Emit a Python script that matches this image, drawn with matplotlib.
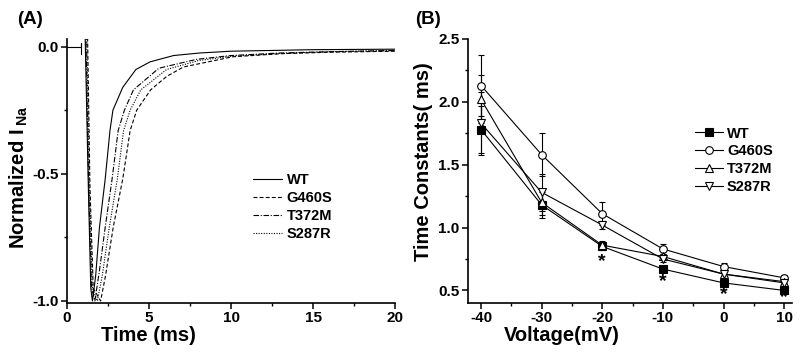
import numpy as np
import matplotlib
matplotlib.use("Agg")
from matplotlib import pyplot as plt

plt.rcParams['font.family'] = ['Liberation Sans', 'DejaVu Sans']
plt.rcParams['font.weight'] = 'bold'
plt.rcParams['axes.unicode_minus'] = False
plt.rcParams['mathtext.fontset'] = 'custom'
plt.rcParams['mathtext.rm'] = 'Liberation Sans:bold'
plt.rcParams['mathtext.bf'] = 'Liberation Sans:bold'

# (A) normalized sodium current traces
artifact_t = [0.0, 0.85, 0.85, 0.85]
artifact_y = [0.0, 0.0, 0.016, -0.03]

wt_t = [1.10, 1.30, 1.45, 1.55, 1.75, 1.98, 2.33, 2.62, 2.80, 3.40, 4.20, 5.06, 6.50, 8.10, 10.0, 15.0, 20.0]
wt_i = [0.06, -0.55, -0.95, -1.00, -0.90, -0.71, -0.52, -0.33, -0.25, -0.16, -0.09, -0.06, -0.035, -0.025, -0.018, -0.012, -0.010]

g460s_t = [1.25, 1.40, 1.60, 2.05, 2.35, 2.82, 3.40, 3.85, 4.25, 5.10, 6.08, 7.10, 10.1, 13.0, 16.0, 20.0]
g460s_i = [0.06, -0.55, -0.95, -1.00, -0.90, -0.71, -0.52, -0.33, -0.25, -0.17, -0.117, -0.08, -0.04, -0.028, -0.022, -0.018]

t372m_t = [1.15, 1.32, 1.50, 1.70, 1.98, 2.33, 2.75, 3.12, 3.50, 4.05, 5.60, 7.90, 10.0, 13.0, 16.0, 20.0]
t372m_i = [0.06, -0.55, -0.95, -1.00, -0.88, -0.71, -0.52, -0.33, -0.25, -0.17, -0.085, -0.05, -0.035, -0.025, -0.02, -0.015]

s287r_t = [1.20, 1.36, 1.55, 1.85, 2.15, 2.58, 3.07, 3.45, 3.85, 4.50, 6.07, 8.0, 10.0, 13.0, 16.0, 20.0]
s287r_i = [0.06, -0.55, -0.95, -1.00, -0.90, -0.71, -0.52, -0.33, -0.25, -0.17, -0.09, -0.055, -0.038, -0.027, -0.02, -0.016]

# (B) inactivation time constants
voltage = [-40, -30, -20, -10, 0, 10]
tau_wt = [1.78, 1.18, 0.85, 0.67, 0.56, 0.50]
tau_g460s = [2.13, 1.58, 1.11, 0.83, 0.69, 0.60]
tau_t372m = [2.02, 1.20, 0.86, 0.77, 0.63, 0.57]
tau_s287r = [1.83, 1.28, 1.02, 0.75, 0.63, 0.56]
err_wt = [0.19, 0.10, 0.03, 0.02, 0.015, 0.015]
err_g460s = [0.24, 0.17, 0.09, 0.04, 0.03, 0.02]
err_t372m = [0.19, 0.10, 0.03, 0.02, 0.015, 0.015]
err_s287r = [0.25, 0.15, 0.03, 0.02, 0.015, 0.015]
star_v = [-20, -10, 0, 10]
star_y = [0.73, 0.57, 0.47, 0.44]

fig = plt.figure(figsize=(8, 3.54), dpi=100)
axA = fig.add_axes([67/800, 1-303/354, 328/800, 264/354])
axB = fig.add_axes([468/800, 1-303/354, 324/800, 264/354])

lw = 0.8
axA.plot(artifact_t, artifact_y, color='black', lw=lw)
axA.plot(wt_t, wt_i, color='black', lw=lw, ls='-', label='WT')
axA.plot(g460s_t, g460s_i, color='black', lw=lw, ls=(0, (3.5, 2)), label='G460S')
axA.plot(t372m_t, t372m_i, color='black', lw=lw, ls=(0, (5, 1.5, 1, 1.5)), label='T372M')
axA.plot(s287r_t, s287r_i, color='black', lw=lw, ls=(0, (1, 1.3)), label='S287R')

axA.set_xlim(0, 20)
axA.set_ylim(-1.008, 0.030)
axA.set_xticks([0, 5, 10, 15, 20])
axA.set_xticks([2.5, 7.5, 12.5, 17.5], minor=True)
axA.set_yticks([0.0, -0.5, -1.0])
axA.set_yticks([-0.25, -0.75], minor=True)
axA.set_yticklabels(['0.0', '-0.5', '-1.0'])
axA.set_xlabel('Time (ms)', fontsize=14.5, fontweight='bold')
axA.xaxis.set_label_coords(0.247, -0.088)
axA.xaxis.label.set_va('top')
axA.set_ylabel(r'Normalized I$\,_{\rm Na}$', fontsize=14.5, fontweight='bold')
axA.yaxis.set_label_coords(-0.113, 0.477)
axA.legend(loc='center left', bbox_to_anchor=(0.567, 0.3625), frameon=False,
           fontsize=10.5, handlelength=2.0, handletextpad=0.3, labelspacing=0.27,
           borderpad=0, borderaxespad=0)

series = [
    (tau_wt, err_wt, 's', 'black', 'WT'),
    (tau_g460s, err_g460s, 'o', 'white', 'G460S'),
    (tau_t372m, err_t372m, '^', 'white', 'T372M'),
    (tau_s287r, err_s287r, 'v', 'white', 'S287R'),
]
for tau, err, mk, fc, name in series:
    axB.errorbar(voltage, tau, yerr=err, fmt='none', ecolor='black', elinewidth=0.8,
                 capsize=2.5, capthick=0.8, zorder=2)
for tau, err, mk, fc, name in series:
    axB.plot(voltage, tau, color='black', lw=lw, marker=mk, markersize=5.5,
             markerfacecolor=fc, markeredgecolor='black', markeredgewidth=0.8,
             label=name, zorder=3)

for v, y in zip(star_v, star_y):
    axB.text(v, y, '*', ha='center', va='center', fontsize=14, fontweight='bold')

axB.set_xlim(-42.15, 11.3)
axB.set_ylim(0.4, 2.5)
axB.set_xticks(voltage)
axB.set_xticks([-35, -25, -15, -5, 5], minor=True)
axB.set_yticks([0.5, 1.0, 1.5, 2.0, 2.5])
axB.set_yticks([0.75, 1.25, 1.75, 2.25], minor=True)
axB.set_xlabel('Voltage(mV)', fontsize=14.5, fontweight='bold')
axB.xaxis.set_label_coords(0.29, -0.088)
axB.xaxis.label.set_va('top')
axB.set_ylabel('Time Constants( ms)', fontsize=14.5, fontweight='bold')
axB.yaxis.set_label_coords(-0.108, 0.534)
axB.legend(loc='center left', bbox_to_anchor=(0.70, 0.54), frameon=False,
           fontsize=10.5, handlelength=1.9, handletextpad=0.3, labelspacing=0.27,
           borderpad=0, borderaxespad=0)

for ax in (axA, axB):
    ax.spines['top'].set_visible(False)
    ax.spines['right'].set_visible(False)
    ax.spines['left'].set_linewidth(1.2)
    ax.spines['bottom'].set_linewidth(1.2)
    ax.tick_params(which='major', direction='out', length=4, width=1.1, labelsize=11, pad=2)
    ax.tick_params(which='minor', direction='out', length=2.5, width=1.0)
    for lab in ax.get_xticklabels() + ax.get_yticklabels():
        lab.set_fontweight('bold')

fig.text(17/800, 1-19/354, '(A)', fontsize=13.5, fontweight='bold', va='center')
fig.text(415/800, 1-19/354, '(B)', fontsize=13.5, fontweight='bold', va='center')

fig.savefig('out.png', dpi=100)
